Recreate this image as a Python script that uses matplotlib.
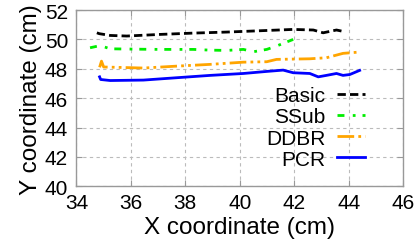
import matplotlib
matplotlib.use("Agg")
import matplotlib.pyplot as plt

# Basic
basic_x = [34.75, 34.84, 35.24, 35.85, 37.07, 38.29, 39.52, 40.74, 41.96, 42.70, 43.06, 43.55, 43.86]
basic_y = [50.45, 50.39, 50.27, 50.23, 50.34, 50.43, 50.50, 50.59, 50.68, 50.64, 50.45, 50.64, 50.52]

# SSub
ssub_x = [34.50, 34.87, 35.24, 36.46, 37.07, 38.29, 38.91, 39.52, 40.13, 40.50, 40.99, 41.35, 41.96]
ssub_y = [49.43, 49.58, 49.36, 49.33, 49.32, 49.32, 49.27, 49.25, 49.32, 49.16, 49.32, 49.55, 50.00]

# DDBR
ddbr_x = [34.85, 34.92, 35.00, 35.24, 36.46, 37.68, 38.91, 40.13, 40.99, 41.35, 42.57, 43.18, 43.79, 44.40]
ddbr_y = [48.10, 48.52, 48.12, 48.11, 48.05, 48.18, 48.30, 48.45, 48.48, 48.64, 48.68, 48.75, 49.05, 49.14]

# PCR
pcr_x = [34.85, 34.89, 35.24, 36.46, 37.68, 38.91, 40.13, 40.99, 41.59, 41.96, 42.57, 42.88, 43.18, 43.55, 43.79, 44.04, 44.40]
pcr_y = [47.45, 47.27, 47.20, 47.23, 47.39, 47.55, 47.68, 47.82, 47.91, 47.73, 47.68, 47.45, 47.55, 47.68, 47.55, 47.61, 47.89]

x_ticks = [34, 36, 38, 40, 42, 44, 46]
y_ticks = [40, 42, 44, 46, 48, 50, 52]

plt.rcParams['font.family'] = ['Liberation Sans', 'DejaVu Sans']

fig = plt.figure(figsize=(4.2, 2.51), dpi=100)
ax = fig.add_axes([0.182, 0.254, 0.778, 0.702])

ax.plot(basic_x, basic_y, color='black', lw=2, dashes=(3, 1.5), label='Basic')
ax.plot(ssub_x, ssub_y, color='#00ee00', lw=2, dashes=(2.5, 3, 1, 2.5), label='SSub')
ax.plot(ddbr_x, ddbr_y, color='#ffa500', lw=2, dashes=(6, 1.5, 1, 1.5, 1, 1.5), label='DDBR')
ax.plot(pcr_x, pcr_y, color='#0000ff', lw=2, label='PCR')

ax.set_xlim(34, 46)
ax.set_ylim(40, 52)
ax.set_xticks(x_ticks)
ax.set_yticks(y_ticks)
ax.tick_params(direction='in', length=4, color='#999999', labelsize=15,
               top=True, right=True)
ax.tick_params(axis='x', pad=5)
ax.tick_params(axis='y', pad=6)
ax.grid(True, color='#bbbbbb', linestyle=(0, (3, 3)), lw=0.8)
for s in ax.spines.values():
    s.set_color('#999999')
    s.set_linewidth(1)

ax.set_xlabel('X coordinate (cm)', fontsize=17.5, labelpad=3)
ax.set_ylabel('Y coordinate (cm)', fontsize=17.5, labelpad=2)

leg = ax.legend(loc='lower right', markerfirst=False, frameon=False, fontsize=15,
                handlelength=1.35, handletextpad=0.55, labelspacing=0.1,
                borderpad=0, borderaxespad=0, bbox_to_anchor=(0.883, 0.10))

fig.savefig('out.png', dpi=100)
